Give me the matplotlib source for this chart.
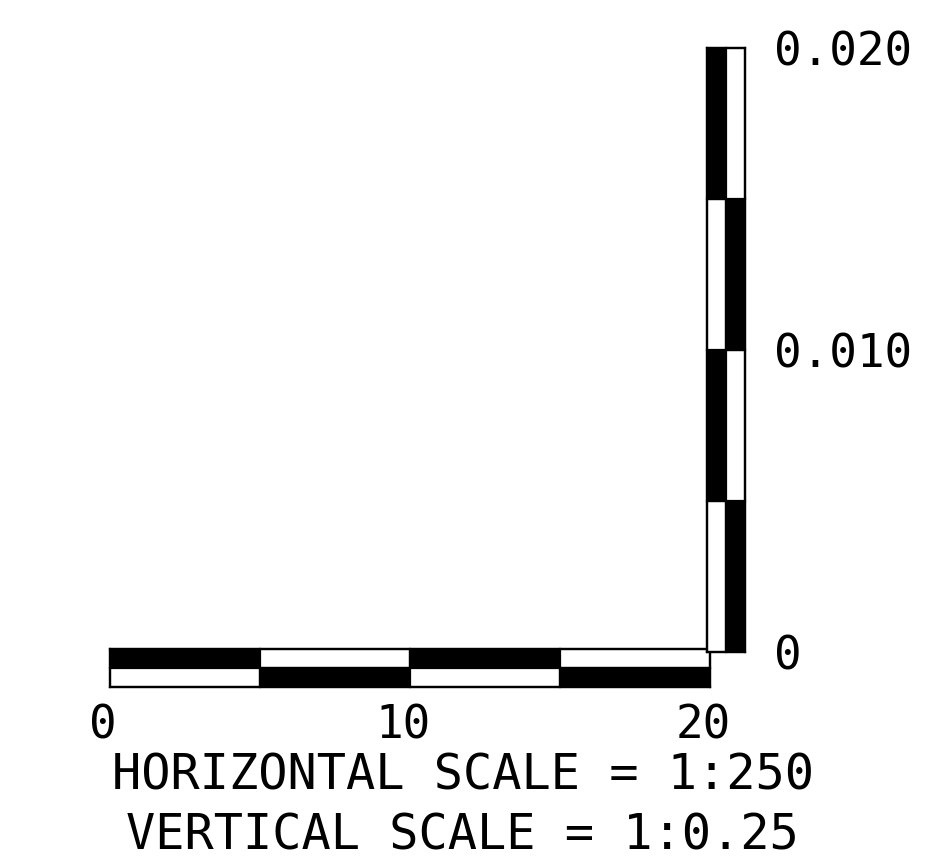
import matplotlib
matplotlib.use("Agg")
import matplotlib.pyplot as plt
from matplotlib.transforms import ScaledTranslation

# ---- data ----
h_edges = [0, 5, 10, 15, 20]          # horizontal scale segment edges
h_ticks = [0, 10, 20]
h_labels = ["0", "10", "20"]
v_edges = [0, 0.005, 0.010, 0.015, 0.020]  # vertical scale segment edges
v_ticks = [0, 0.010, 0.020]
v_labels = ["0", "0.010", "0.020"]
title_h = "HORIZONTAL SCALE = 1:250"
title_v = "VERTICAL SCALE = 1:0.25"

W, H = 934, 865
fig = plt.figure(figsize=(W / 100, H / 100), dpi=100)
fig.patch.set_facecolor("white")

FONT = "DejaVu Sans Mono"
FS = 33
FS_T = 35
LW = 1.6

def px_axes(x0, y0, x1, y1):
    return fig.add_axes([x0 / W, 1 - y1 / H, (x1 - x0) / W, (y1 - y0) / H])

# ---- horizontal scale bar ----
axh = px_axes(110, 649, 710, 687)
for i in range(len(h_edges) - 1):
    x0, x1 = h_edges[i], h_edges[i + 1]
    top_black = (i % 2 == 0)
    axh.bar(x0, 1, width=x1 - x0, bottom=1, align="edge",
            color="black" if top_black else "white", edgecolor="black",
            linewidth=LW, clip_on=False)
    axh.bar(x0, 1, width=x1 - x0, bottom=0, align="edge",
            color="white" if top_black else "black", edgecolor="black",
            linewidth=LW, clip_on=False)
axh.set_xlim(h_edges[0], h_edges[-1])
axh.set_ylim(0, 2)
axh.set_yticks([])
axh.set_xticks(h_ticks)
axh.set_xticklabels(h_labels, fontfamily=FONT, fontsize=FS)
axh.tick_params(axis="x", length=0, pad=12)
for lab in axh.get_xticklabels():
    lab.set_transform(lab.get_transform() + ScaledTranslation(-7 / 100, 0, fig.dpi_scale_trans))
for s in axh.spines.values():
    s.set_linewidth(LW)

# ---- vertical scale bar ----
axv = px_axes(707, 48, 745, 652)
for i in range(len(v_edges) - 1):
    y0, y1 = v_edges[i], v_edges[i + 1]
    left_black = (i % 2 == 1)
    axv.bar(0, y1 - y0, width=1, bottom=y0, align="edge",
            color="black" if left_black else "white", edgecolor="black",
            linewidth=LW, clip_on=False)
    axv.bar(1, y1 - y0, width=1, bottom=y0, align="edge",
            color="white" if left_black else "black", edgecolor="black",
            linewidth=LW, clip_on=False)
axv.set_xlim(0, 2)
axv.set_ylim(v_edges[0], v_edges[-1])
axv.set_xticks([])
axv.yaxis.tick_right()
axv.set_yticks(v_ticks)
axv.set_yticklabels(v_labels, fontfamily=FONT, fontsize=FS)
axv.tick_params(axis="y", length=0, pad=21)
for s in axv.spines.values():
    s.set_linewidth(LW)

# ---- scale titles ----
fig.text(463 / W, 1 - 775 / H, title_h, ha="center", va="center",
         fontfamily=FONT, fontsize=FS_T)
fig.text(462 / W, 1 - 835 / H, title_v, ha="center", va="center",
         fontfamily=FONT, fontsize=FS_T)

fig.savefig("out.png", dpi=100, facecolor="white")
